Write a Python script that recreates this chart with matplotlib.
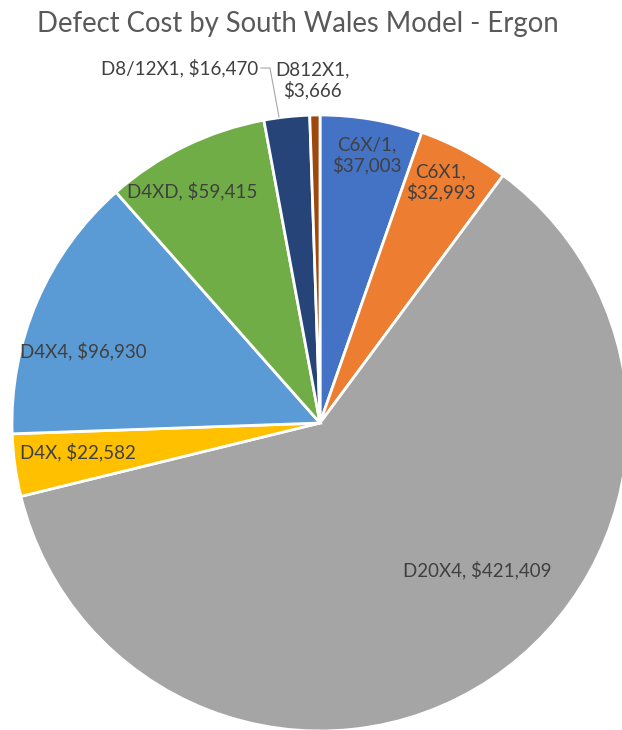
import matplotlib
matplotlib.use("Agg")
import matplotlib.pyplot as plt
import numpy as np

categories = ["C6X/1", "C6X1", "D20X4", "D4X", "D4X4", "D4XD", "D8/12X1", "D812X1"]
values = [37003, 32993, 421409, 22582, 96930, 59415, 16470, 3666]
colors = ["#4472C4", "#ED7D31", "#A5A5A5", "#FFC000", "#5B9BD5", "#70AD47", "#264478", "#9E480E"]
title = "Defect Cost by South Wales Model - Ergon"

W, H = 622, 730
fig = plt.figure(figsize=(W / 100, H / 100), dpi=100)
plt.rcParams['font.family'] = ['Lato', 'DejaVu Sans']

cx, cy, R = 320, 423, 308  # pixel coords from top
ax = fig.add_axes([(cx - R) / W, (H - cy - R) / H, 2 * R / W, 2 * R / H])
ax.pie(values, colors=colors, startangle=90, counterclock=False, radius=1,
       wedgeprops=dict(edgecolor="white", linewidth=2))
ax.set_xlim(-1, 1)
ax.set_ylim(-1, 1)
ax.set_aspect("equal")
ax.axis("off")

def px(x, y):
    return ((x - cx) / R, (cy - y) / R)

txtc = "#404040"
fs = 13.5
labels_pos = {
    "C6X/1": (367, 155, "center"),
    "C6X1": (441, 182, "center"),
    "D20X4": (477, 570, "center"),
    "D4X": (20, 452, "left"),
    "D4X4": (20, 351, "left"),
    "D4XD": (192, 191, "center"),
    "D8/12X1": (258, 68, "right"),
    "D812X1": (312, 80, "center"),
}
two_line = {"C6X/1", "C6X1", "D812X1"}
for cat, v in zip(categories, values):
    x, y, ha = labels_pos[cat]
    sep = ",\n" if cat in two_line else ", "
    ax.text(*px(x, y), f"{cat}{sep}${v:,}", ha=ha, va="center", fontsize=fs,
            color=txtc, linespacing=1.15, clip_on=False)

# leader line for D8/12X1
lx = [px(261, 68)[0], px(270, 68)[0], px(279, 117)[0]]
ly = [px(261, 68)[1], px(270, 68)[1], px(279, 117)[1]]
ax.plot(lx, ly, color="#A6A6A6", lw=0.8, clip_on=False)

fig.text(298 / W, 1 - 24 / H, title, ha="center", va="center", fontsize=19.8, color="#595959")

fig.savefig("out.png", dpi=100)
